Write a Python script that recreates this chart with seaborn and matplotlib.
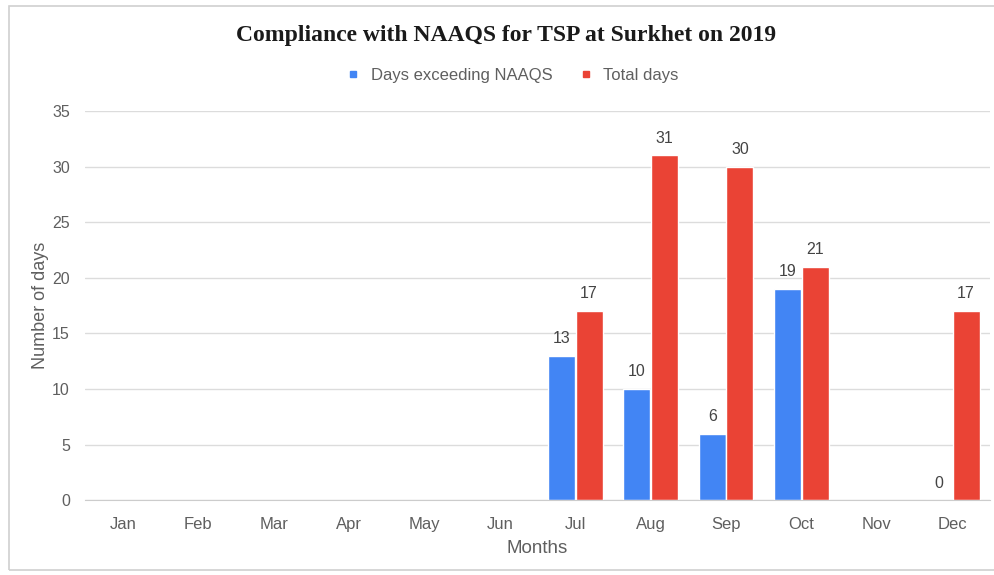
import numpy as np
import pandas as pd
import matplotlib
matplotlib.use("Agg")
import matplotlib.pyplot as plt
import seaborn as sns
from matplotlib.lines import Line2D
from matplotlib.patches import Rectangle

months = ['Jan', 'Feb', 'Mar', 'Apr', 'May', 'Jun', 'Jul', 'Aug', 'Sep', 'Oct', 'Nov', 'Dec']
exceeding = [np.nan, np.nan, np.nan, np.nan, np.nan, np.nan, 13, 10, 6, 19, np.nan, 0]
total = [np.nan, np.nan, np.nan, np.nan, np.nan, np.nan, 17, 31, 30, 21, np.nan, 17]
series = ['Days exceeding NAAQS', 'Total days']
colors = ['#4285F4', '#EA4335']

df = pd.concat([
    pd.DataFrame({'Month': months, 'Days': exceeding, 'Series': series[0]}),
    pd.DataFrame({'Month': months, 'Days': total, 'Series': series[1]}),
], ignore_index=True)

sns.set_style('white')
plt.rcParams['font.family'] = ['Liberation Sans', 'DejaVu Sans']
grey = '#5f5f5f'

fig = plt.figure(figsize=(9.95, 5.75), dpi=100)
ax = fig.add_axes([0.0855, 0.130, 0.9095, 0.677])

sns.barplot(data=df, x='Month', y='Days', hue='Series', order=months,
            hue_order=series, palette=colors, width=0.73, gap=0.02,
            saturation=1, legend=False, ax=ax)

for c in ax.containers:
    labels = [f'{v:.0f}' if np.isfinite(v) else '' for v in c.datavalues]
    ax.bar_label(c, labels=labels, padding=7, fontsize=11.5, color='#444444')

ax.set_ylim(0, 35)
ax.set_yticks(range(0, 36, 5))
ax.yaxis.grid(True, color='#dcdcdc', linewidth=1)
ax.set_axisbelow(True)
sns.despine(ax=ax, left=True, top=True, right=True)
ax.spines['bottom'].set_color('#cccccc')
ax.tick_params(axis='both', length=0, colors=grey)
ax.tick_params(axis='x', labelsize=12, pad=12)
ax.tick_params(axis='y', labelsize=11.5, pad=11)
ax.set_xlabel('Months', color=grey, fontsize=13.5, labelpad=6)
ax.set_ylabel('Number of days', color=grey, fontsize=13, labelpad=2)

fig.suptitle('Compliance with NAAQS for TSP at Surkhet on 2019', x=0.509, y=0.939,
             va='center', fontsize=17, fontweight='bold', family='Liberation Serif',
             color='#1a1a1a')

handles = [Line2D([], [], marker='s', linestyle='', markersize=5, color=col) for col in colors]
fig.legend(handles, series, loc='center', bbox_to_anchor=(0.51, 0.869), ncol=2,
           frameon=False, fontsize=12, handletextpad=0.05, columnspacing=1.0,
           labelcolor=grey)

fig.patches.append(Rectangle((0.009, 0.009), 1.0, 0.981, transform=fig.transFigure,
                             fill=False, edgecolor='#d0d0d0', linewidth=1.2))

fig.savefig('out.png', dpi=100)
